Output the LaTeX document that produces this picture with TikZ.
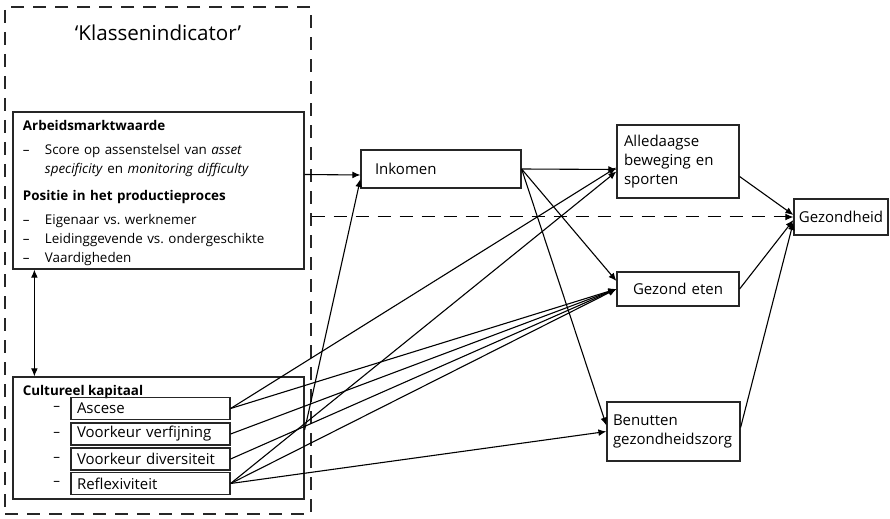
\documentclass[tikz,border=0pt]{standalone}
\usepackage{fontspec}
\setmainfont{Open Sans}
\usetikzlibrary{arrows.meta,positioning}
\newcommand{\streep}{\makebox[11pt][l]{--}}
\newcommand{\inspring}{\hspace*{11pt}}
\frenchspacing
\begin{document}
\begin{tikzpicture}[>={Latex[length=4pt,width=3.4pt]},x=0.5pt,y=-0.5pt,
	every node/.style={font=\fontsize{7.5}{9.5}\selectfont,inner sep=0pt},
	vak/.style={draw=black!85,line width=0.6pt},
	klein/.style={font=\fontsize{6.7}{9.5}\selectfont},
	subvak/.style={vak,text width=73.5pt,inner xsep=3pt,minimum height=11pt,align=left},
	pijl/.style={->,line width=0.55pt}]
	\useasboundingbox (0,0) rectangle (890,519);
	% de klassenindicator links
	\node[vak,dash pattern=on 6.5pt off 4.5pt,minimum width=153pt,minimum height=253.5pt] (klasse) at (158,260.5) {};
	\node[font=\fontsize{10.3}{12}\selectfont] (titel) at (158,33) {‘Klassenindicator’};
	\node[vak,klein,text width=135.5pt,inner xsep=5pt,minimum height=78.5pt,align=left] (arbeid) at (158.5,190.5)
		{\rule{0pt}{8pt}\textbf{Arbeidsmarktwaarde}\\[2.5pt]
		\streep Score op assenstelsel van \textit{asset}\\
		\inspring\textit{specificity} en \textit{monitoring difficulty}\\[4pt]
		\textbf{Positie in het productieproces}\\[2.5pt]
		\streep Eigenaar vs. werknemer\\
		\streep Leidinggevende vs. ondergeschikte\\
		\streep Vaardigheden};
	\node[vak,minimum width=145.5pt,minimum height=61pt] (cultuur) at (158.5,438) {};
	\node[klein,anchor=north west] (cultuurtitel) at ([xshift=5pt,yshift=-4.5pt]cultuur.north west) {\textbf{Cultureel kapitaal}};
	\foreach \naam/\tekst/\y in {ascese/Ascese/408.5,verfijning/Voorkeur verfijning/434,diversiteit/Voorkeur diversiteit/459,reflex/Reflexiviteit/483.5}{
		\node[subvak] (\naam) at (150.5,\y) {\tekst};
		\node[klein,left=5pt of \naam] (\naam-streep) {--};
	}
	% uitkomsten rechts
	\node[vak,text width=66pt,inner xsep=7pt,minimum height=19pt,align=left] (inkomen) at (441,169) {Inkomen};
	\node[vak,text width=54pt,inner xsep=3.5pt,minimum height=36.5pt,align=left] (beweging) at (678,161.5) {Alledaagse\\beweging en\\sporten};
	\node[vak,text width=61pt,minimum height=17pt,align=center] (eten) at (678,289) {Gezond eten};
	\node[vak,text width=60.5pt,inner xsep=3pt,minimum height=29.5pt,align=left] (zorg) at (673.5,431.5) {Benutten\\gezondheidszorg};
	\node[vak,text width=47pt,minimum height=18pt,align=center] (gezondheid) at (841,217) {Gezondheid};
	% pijlen
	\draw[pijl,<->] ([xshift=11pt]arbeid.south west) -- ([xshift=11pt]cultuur.north west);
	\draw[pijl] ([yshift=8pt]arbeid.east) -- ([yshift=-3pt]inkomen.west);
	\draw[pijl] ([yshift=4pt]cultuur.east) -- ([yshift=-5pt]inkomen.west);
	\draw[pijl] (inkomen.east) -- ([yshift=-4pt]beweging.west);
	\draw[pijl] (inkomen.east) -- ([yshift=4pt]eten.west);
	\draw[pijl] (inkomen.east) -- ([yshift=3pt]zorg.west);
	\draw[pijl] (ascese.east) -- ([yshift=-3pt]beweging.west);
	\draw[pijl] (reflex.east) -- ([yshift=-5pt]beweging.west);
	\foreach \bron in {ascese,verfijning,diversiteit,reflex}
		\draw[pijl] (\bron.east) -- (eten.west);
	\draw[pijl] (reflex.east) -- (zorg.west);
	\draw[pijl] ([yshift=-7.5pt]beweging.east) -- ([yshift=1pt]gezondheid.west);
	\draw[pijl] (eten.east) -- ([yshift=-1.5pt]gezondheid.west);
	\draw[pijl] ([yshift=2pt]zorg.east) -- ([yshift=-2.5pt]gezondheid.west);
	\draw[pijl,line width=0.5pt,dash pattern=on 6.5pt off 4.5pt] (klasse.east |- gezondheid.west) -- (gezondheid.west);
\end{tikzpicture}
\end{document}
